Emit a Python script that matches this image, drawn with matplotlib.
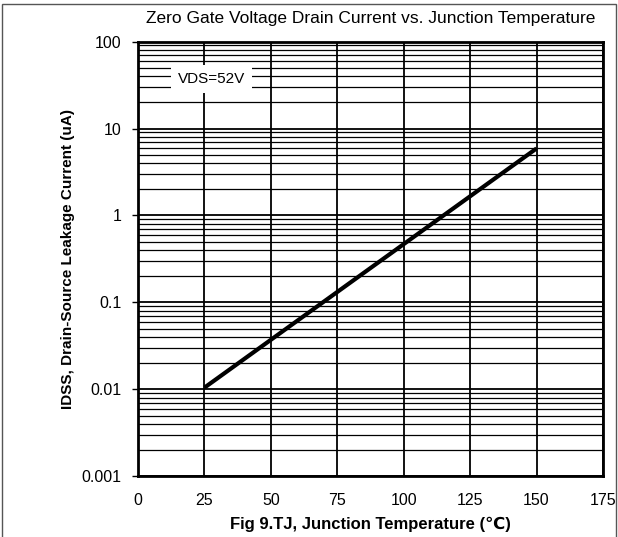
import matplotlib.pyplot as plt
from matplotlib.ticker import LogLocator, NullFormatter, FixedLocator
from matplotlib.patches import Rectangle

# data
temp = [25, 150]
idss = [0.0105, 5.9]
x_ticks = [0, 25, 50, 75, 100, 125, 150, 175]
y_ticks = [0.001, 0.01, 0.1, 1, 10, 100]
y_labels = ["0.001", "0.01", "0.1", "1", "10", "100"]

plt.rcParams['font.family'] = ['Liberation Sans', 'DejaVu Sans']

fig = plt.figure(figsize=(6.18, 5.37), dpi=100)
ax = fig.add_axes([0.2233, 0.1127, 0.7524, 0.81])

ax.set_yscale('log')
ax.set_xlim(0, 175)
ax.set_ylim(0.001, 100)

ax.xaxis.set_major_locator(FixedLocator(x_ticks))
ax.yaxis.set_major_locator(FixedLocator(y_ticks))
ax.set_yticklabels(y_labels)
ax.yaxis.set_minor_locator(LogLocator(base=10, subs=range(2, 10)))
ax.yaxis.set_minor_formatter(NullFormatter())

ax.grid(True, which='major', color='black', linewidth=1.3)
ax.grid(True, which='minor', axis='y', color='black', linewidth=0.9)
ax.tick_params(axis='y', which='major', direction='out', length=4, width=1,
               labelsize=11.5, pad=8)
ax.tick_params(axis='y', which='minor', length=0)
ax.tick_params(axis='x', length=0, labelsize=11.5, pad=12)
for s in ax.spines.values():
    s.set_linewidth(2)

ax.plot(temp, idss, color='black', linewidth=3, solid_capstyle='butt')

ax.text(27.5, 37, "VDS=52V", fontsize=11, ha='center', va='center',
        bbox=dict(facecolor='white', edgecolor='none', pad=5), zorder=5)

ax.set_title("Zero Gate Voltage Drain Current vs. Junction Temperature",
             fontsize=12.5, pad=13)
ax.set_xlabel("Fig 9.TJ, Junction Temperature (℃)", fontsize=12,
              fontweight='bold', labelpad=6)
ax.set_ylabel("IDSS, Drain-Source Leakage Current (uA)", fontsize=11,
              fontweight='bold')
ax.yaxis.set_label_coords(-0.1355, 0.5)

fig.patches.append(Rectangle((0.003, -0.01), 0.994, 1.003, transform=fig.transFigure,
                             fill=False, edgecolor='#555555', linewidth=1))

fig.savefig("out.png", dpi=100)
